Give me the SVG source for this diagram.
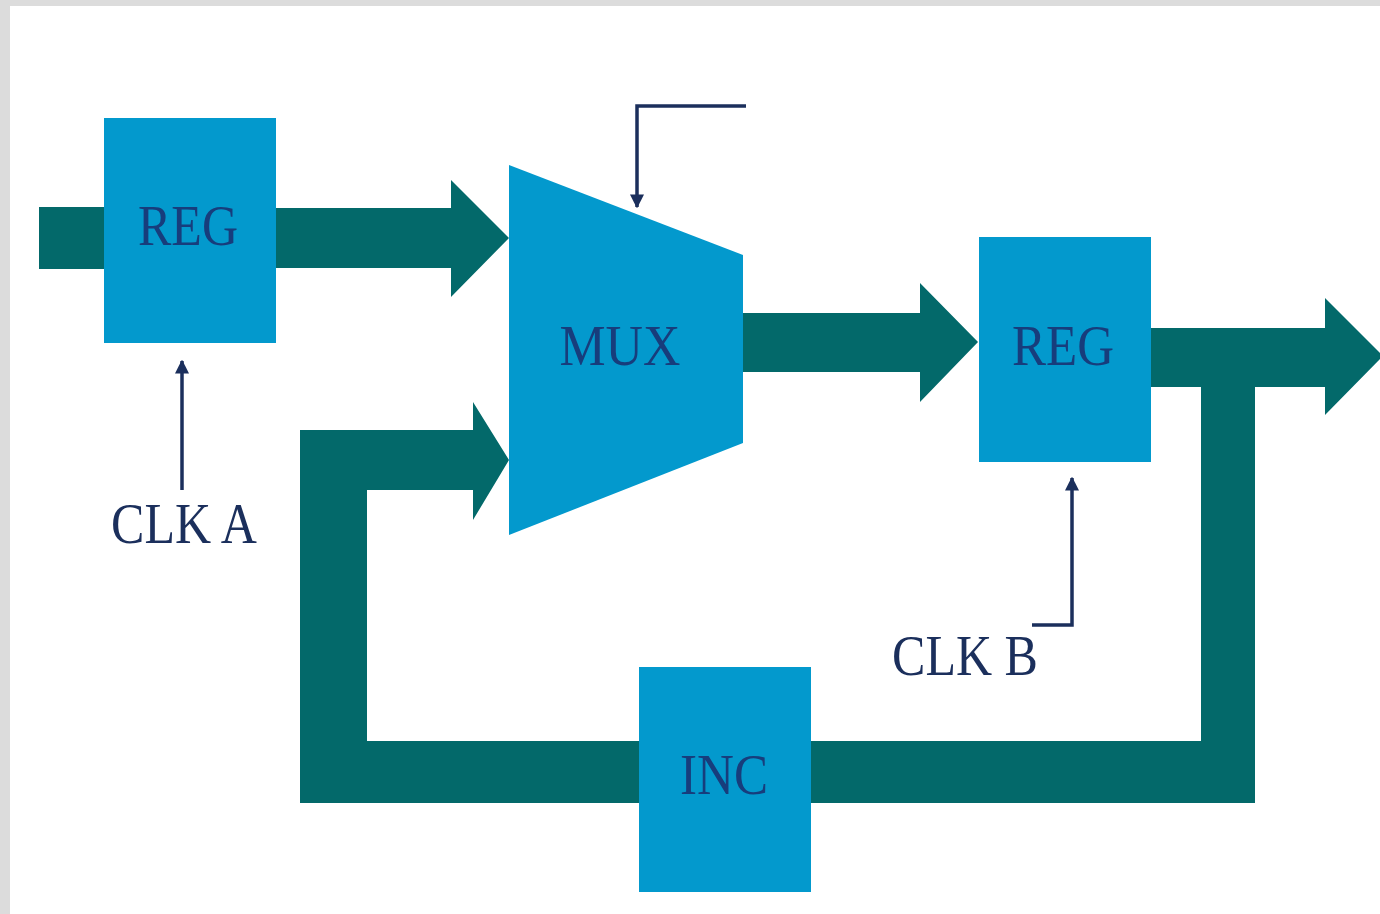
<svg xmlns="http://www.w3.org/2000/svg" width="1380" height="914" viewBox="0 0 1380 914">
  <style>
    .bus { fill: #03696a; }
    .block { fill: #0399cd; }
    .label { font-family: "Liberation Serif", "Times New Roman", serif; font-size: 57px; fill: #173d7c; }
    .clk { font-family: "Liberation Serif", "Times New Roman", serif; font-size: 57px; fill: #1b2f5c; }
    .ctl { fill: none; stroke: #1b2f5c; stroke-width: 3.5; }
  </style>
  <defs>
    <marker id="tip" viewBox="0 0 10 10" refX="9" refY="5" markerWidth="4" markerHeight="4" orient="auto" markerUnits="strokeWidth">
      <path d="M0,0 L10,5 L0,10 Z" fill="#1b2f5c"/>
    </marker>
  </defs>

  <!-- page frame -->
  <rect x="0" y="0" width="1380" height="914" fill="#dcdcdc"/>
  <rect x="10" y="6" width="1370" height="908" fill="#ffffff"/>

  <g id="connectors">
    <!-- data input into first register -->
    <rect class="bus" x="39" y="207" width="70" height="62"/>
    <!-- REG -> MUX upper input -->
    <polygon class="bus" points="270,208 451,208 451,180 509,238 451,297 451,268 270,268"/>
    <!-- MUX -> REG -->
    <polygon class="bus" points="740,313 920,313 920,283 978,342 920,402 920,372 740,372"/>
    <!-- REG output -->
    <polygon class="bus" points="1146,328 1325,328 1325,298 1383,356 1325,415 1325,387 1146,387"/>
    <!-- feedback loop: REG output -> INC -> MUX lower input -->
    <polygon class="bus" points="1201,380 1255,380 1255,803 300,803 300,430 473,430 473,402 509,460 473,520 473,490 367,490 367,741 1201,741"/>
    <!-- control lines -->
    <polyline class="ctl" points="746,106 637,106 637,207" marker-end="url(#tip)"/>
    <polyline class="ctl" points="182,490 182,361" marker-end="url(#tip)"/>
    <polyline class="ctl" points="1032,625 1072,625 1072,478" marker-end="url(#tip)"/>
  </g>

  <g id="reg-a">
    <rect class="block" x="104" y="118" width="172" height="225"/>
    <text class="label" x="188" y="245" text-anchor="middle" textLength="100" lengthAdjust="spacingAndGlyphs">REG</text>
  </g>

  <g id="mux">
    <polygon class="block" points="509,165 743,255 743,443 509,535"/>
    <text class="label" x="620" y="365" text-anchor="middle" textLength="121" lengthAdjust="spacingAndGlyphs">MUX</text>
  </g>

  <g id="reg-b">
    <rect class="block" x="979" y="237" width="172" height="225"/>
    <text class="label" x="1063" y="365" text-anchor="middle" textLength="102" lengthAdjust="spacingAndGlyphs">REG</text>
  </g>

  <g id="inc">
    <rect class="block" x="639" y="667" width="172" height="225"/>
    <text class="label" x="724" y="794" text-anchor="middle" textLength="88" lengthAdjust="spacingAndGlyphs">INC</text>
  </g>

  <g id="clk-a">
    <text class="clk" x="111" y="543" textLength="146" lengthAdjust="spacingAndGlyphs">CLK A</text>
  </g>

  <g id="clk-b">
    <text class="clk" x="892" y="675" textLength="146" lengthAdjust="spacingAndGlyphs">CLK B</text>
  </g>
</svg>
